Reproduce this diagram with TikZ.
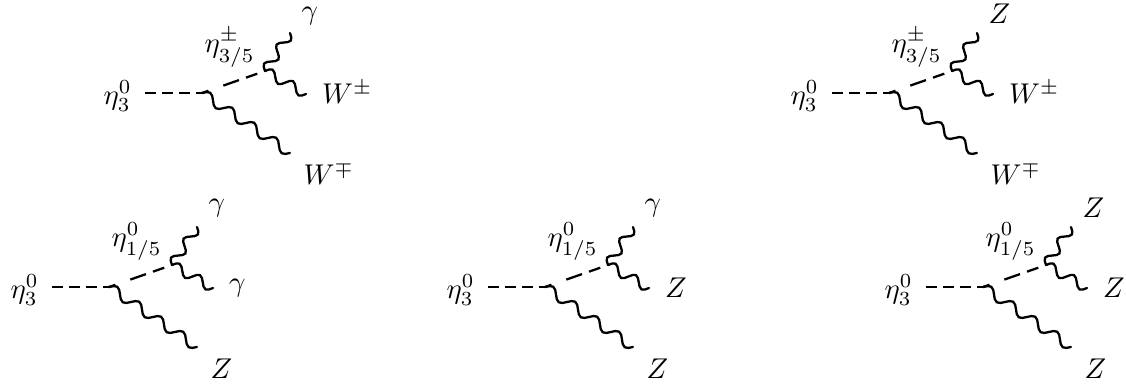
\documentclass[tikz,border=0pt]{standalone}
\usetikzlibrary{decorations}
\pgfdeclaredecoration{complete sines}{initial}{
  \state{initial}[width=+0pt,next state=sine,persistent precomputation={%
    \pgfmathsetmacro\matchinglength{\pgfdecoratedinputsegmentlength/int(\pgfdecoratedinputsegmentlength/\pgfdecorationsegmentlength)}%
    \setlength{\pgfdecorationsegmentlength}{\matchinglength pt}}]{}
  \state{sine}[width=\pgfdecorationsegmentlength]{
    \pgfpathsine{\pgfpoint{0.25\pgfdecorationsegmentlength}{0.5\pgfdecorationsegmentamplitude}}
    \pgfpathcosine{\pgfpoint{0.25\pgfdecorationsegmentlength}{-0.5\pgfdecorationsegmentamplitude}}
    \pgfpathsine{\pgfpoint{0.25\pgfdecorationsegmentlength}{-0.5\pgfdecorationsegmentamplitude}}
    \pgfpathcosine{\pgfpoint{0.25\pgfdecorationsegmentlength}{0.5\pgfdecorationsegmentamplitude}}
  }
  \state{final}{}
}
\tikzset{
  scalarin/.style={line width=0.8pt,dash pattern=on 3.7pt off 2.3pt},
  scalarout/.style={line width=0.8pt,dash pattern=on 2.4pt off 5.5pt on 5.8pt off 2.6pt on 4.2pt off 5pt},
  boson/.style={line width=0.8pt,line cap=round,decorate,decoration={complete sines,segment length=7.6pt,amplitude=3.4pt}},
  lblmid/.style={inner sep=0pt,anchor=west},
  lblend/.style={inner sep=0pt,anchor=south west}
}
\newcommand{\feyndiag}[9]{%
 \begin{scope}[shift={(#1,#2)},name prefix=#3-]
  \coordinate (s) at (145,93);
  \coordinate (v) at (202,93);
  \coordinate (u) at (265,71);
  \coordinate (t) at (290,33);
  \coordinate (m) at (306,94);
  \coordinate (l) at (290,153);
  \draw[scalarin] (s) -- (v);
  \draw[scalarout] (v) -- (u);
  \draw[boson] (u) -- (t);
  \draw[boson] (u) -- (m);
  \draw[boson] (v) -- (l);
  \node[lblmid] (ne) at (103,96) {$\eta_3^0$};
  \node[lblmid] (ni) at (204,47.5) {$\eta_{#4}^{#5}$};
  \node[lblend] (nt) at (301,#9) {$#6$};
  \node[lblend] (nm) at (321.5,104) {$#7$};
  \node[lblend] (nl) at (303,185) {$#8$};
 \end{scope}}
\begin{document}
\begin{tikzpicture}[x=0.35pt,y=-0.35pt]
\useasboundingbox (0,0) rectangle (1126,388);
\feyndiag{0}{0}{a}{3/5}{\pm}{\gamma}{W^\pm}{W^\mp}{25.5}
\feyndiag{687}{0}{b}{3/5}{\pm}{Z}{W^\pm}{W^\mp}{24}
\feyndiag{-93}{194}{c}{1/5}{0}{\gamma}{\gamma}{Z}{24}
\feyndiag{343}{194}{d}{1/5}{0}{\gamma}{Z}{Z}{24}
\feyndiag{781}{194}{e}{1/5}{0}{Z}{Z}{Z}{24}
\end{tikzpicture}
\end{document}
